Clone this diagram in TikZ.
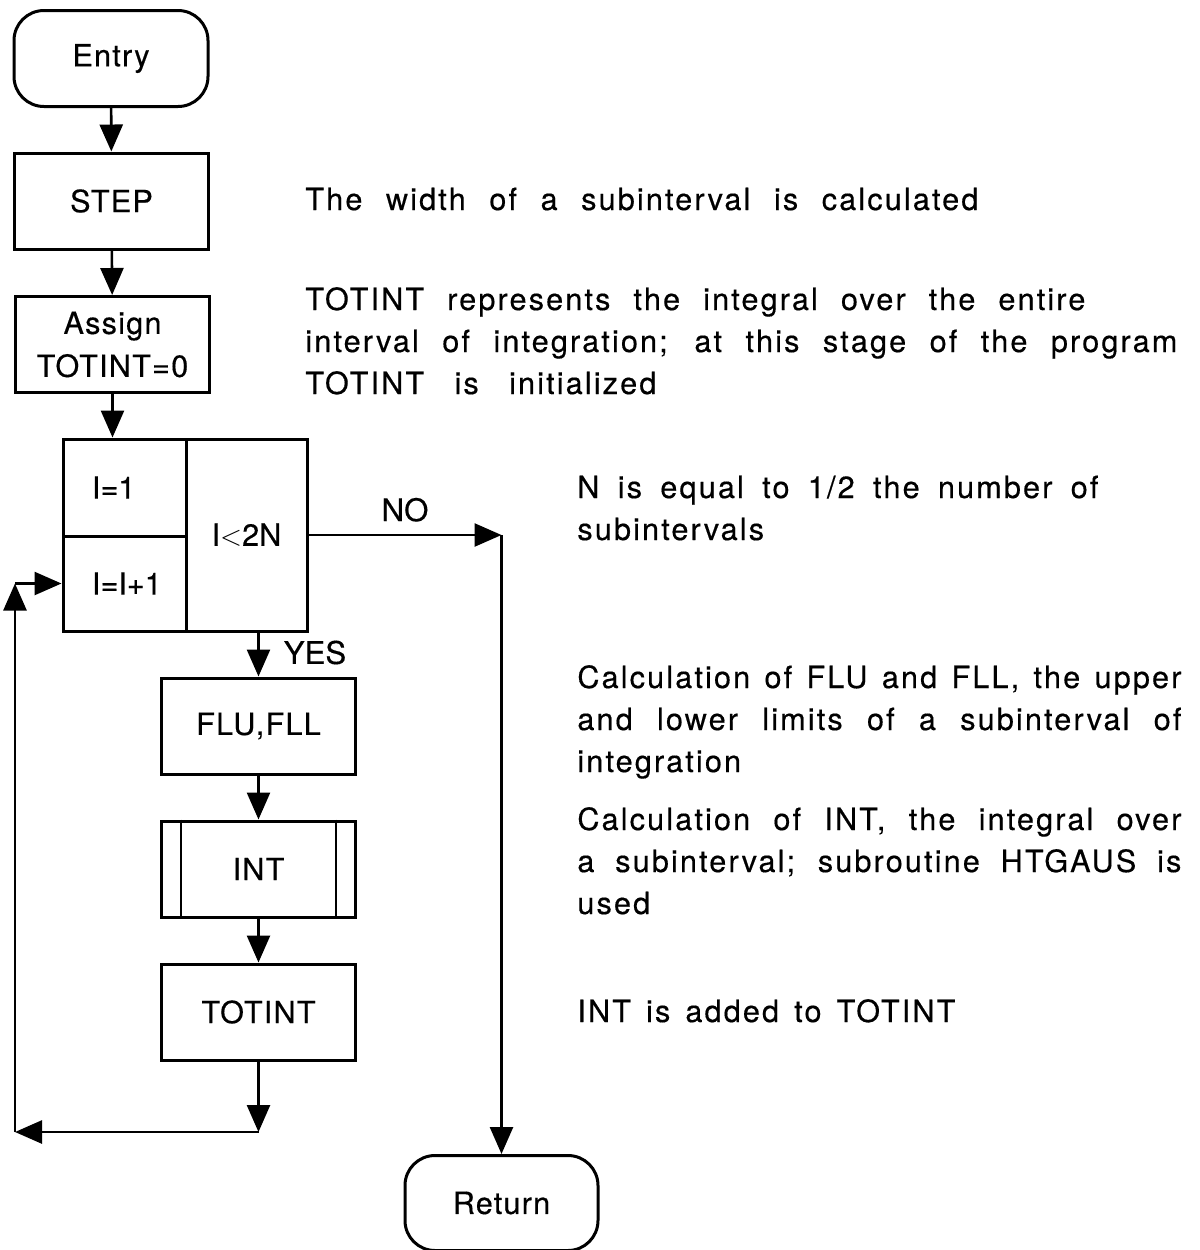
\documentclass[tikz,border=0pt]{standalone}
\usepackage{fontspec}
\setmainfont[FakeBold=0.4]{TeX Gyre Heros}
\newfontfamily\descfont[LetterSpace=7,WordSpace=1.6,FakeBold=0.4]{TeX Gyre Heros}
\newfontfamily\boxfont[LetterSpace=4,FakeBold=0.4]{TeX Gyre Heros}
\usetikzlibrary{arrows.meta}

\begin{document}
\begin{tikzpicture}[x=0.5pt,y=-0.5pt,
  every node/.style={inner sep=0pt,font=\fontsize{15.3}{21.5}\selectfont},
  frame/.style={draw,line width=1.5pt},
  proc/.style={frame,minimum width=97pt,minimum height=48pt,
    font=\boxfont\fontsize{15.3}{21.5}\selectfont,align=center},
  term/.style={proc,rounded corners=15pt},
  cell/.style={frame,align=left,inner xsep=14.5pt},
  flow/.style={line width=1.3pt,-{Triangle[length=13.5pt,width=11.5pt]}},
  desc/.style={anchor=base west,font=\descfont\fontsize{15.3}{21}\selectfont},
  tag/.style={font=\fontsize{15.6}{21}\selectfont}]

\useasboundingbox (0,0) rectangle (1200,1250);

% main column
\node[term] (entry) at (111,58.5) {Entry};
\node[proc] (step) at (111.5,201) {STEP};
\node[proc] (assign) at (112.5,344.5) {Assign\\TOTINT=0};

% loop header: initialisation, increment and test
\node[cell,minimum width=61.5pt,minimum height=48.5pt,text width=32.5pt] (init) at (124.5,487.5) {I=1};
\node[cell,minimum width=61.5pt,minimum height=47.5pt,text width=32.5pt] (incr) at (124.5,583.5) {I=I+1};
\node[frame,minimum width=60.5pt,minimum height=96pt] (test) at (246.5,535) {I$<$2N};

% loop body
\node[proc] (flu) at (258.5,726) {FLU,FLL};
\node[proc] (int) at (258.5,869) {INT};
\draw[line width=1.3pt] ([xshift=10.5pt]int.north west) -- ([xshift=10.5pt]int.south west)
  ([xshift=-10.5pt]int.north east) -- ([xshift=-10.5pt]int.south east);
\node[proc] (tot) at (258.5,1012) {TOTINT};

\node[term,minimum width=96.5pt,minimum height=47.5pt] (ret) at (501.5,1203) {Return};

% connectors
\draw[flow] (entry) -- (step);
\draw[flow] (step) -- (assign);
\draw[flow] (assign.south) -- (assign.south |- init.north);
\draw[flow] (flu.north |- test.south) -- node[tag,anchor=west,xshift=12pt,yshift=1pt] {YES} (flu.north);
\draw[flow] (flu) -- (int);
\draw[flow] (int) -- (tot);

\coordinate (c1) at (258.5,1132);
\coordinate (c2) at (15,1132);
\coordinate (c3) at (15,583.5);
\draw[flow] (tot.south) -- (c1);
\draw[flow] (c1) -- (c2);
\draw[flow] (c2) -- (c3);
\draw[flow] (c3) -- (incr.west);

\coordinate (c4) at (ret.north |- test.east);
\draw[flow] (test.east) -- node[tag,above=6pt,xshift=0pt] {NO} (c4);
\draw[flow] (c4) -- (ret.north);

% explanations
\node[desc] (d1) at (305,210) {\makebox[336.5pt][s]{The width of a subinterval is calculated}};
\node[desc] (d2a) at (305,310) {\makebox[390pt][s]{TOTINT represents the integral over the entire}};
\node[desc] (d2b) at (305,352) {\makebox[436pt][s]{interval of integration; at this stage of the program}};
\node[desc] (d2c) at (305,394) {\makebox[175.5pt][s]{TOTINT is initialized}};

\node[desc] (d3a) at (577,498) {\makebox[260.5pt][s]{N is equal to 1/2 the number of}};
\node[desc] (d3b) at (577,540) {subintervals};

\node[desc] (d4a) at (577,688) {\makebox[302pt][s]{Calculation of FLU and FLL, the upper}};
\node[desc] (d4b) at (577,730) {\makebox[302pt][s]{and lower limits of a subinterval of}};
\node[desc] (d4c) at (577,772) {integration};

\node[desc] (d5a) at (577,830) {\makebox[302pt][s]{Calculation of INT, the integral over}};
\node[desc] (d5b) at (577,872) {\makebox[302pt][s]{a subinterval; subroutine HTGAUS is}};
\node[desc] (d5c) at (577,914) {used};

\node[desc] (d6) at (577,1022) {\makebox[189pt][s]{INT is added to TOTINT}};
\end{tikzpicture}
\end{document}
